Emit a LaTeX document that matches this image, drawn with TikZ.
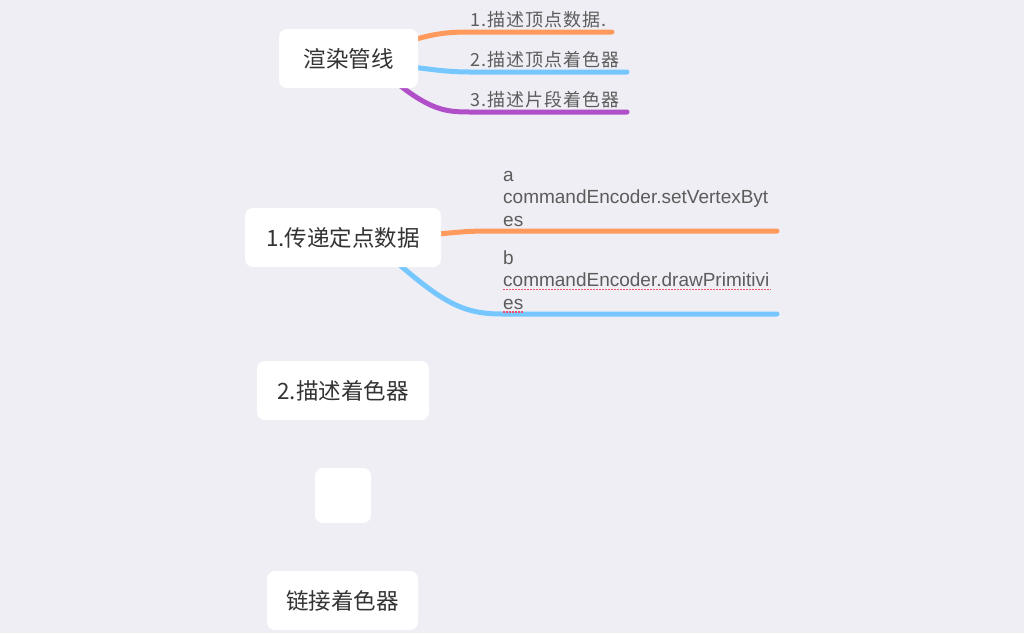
\documentclass[tikz,border=0pt]{standalone}
\usepackage{fontspec}
\usepackage{tikz}
\usetikzlibrary{backgrounds}
\setmainfont{Liberation Sans}
\newfontfamily\cjk{Noto Sans CJK SC}
\newfontfamily\cjkwide[LetterSpace=6]{Noto Sans CJK SC}

\definecolor{bgcol}{HTML}{EFEEF5}
\definecolor{boxtext}{HTML}{333333}
\definecolor{leaftext}{HTML}{5C5C5C}
\definecolor{orangeb}{HTML}{FF9A5C}
\definecolor{blueb}{HTML}{76C7FF}
\definecolor{purpleb}{HTML}{B04FC8}
\definecolor{spellred}{HTML}{F0506A}

\begin{document}
\begin{tikzpicture}[x=1pt,y=-1pt,
  topic/.style={shape=rectangle,rounded corners=8pt,fill=white,text=boxtext,
    minimum height=59pt,inner sep=0pt,font=\cjk\fontsize{22.5}{27}\selectfont},
  leaf/.style={anchor=base west,inner sep=0pt,text=leaftext,
    font=\cjkwide\fontsize{18}{22}\selectfont},
  codeleaf/.style={anchor=base west,inner sep=0pt,text=leaftext,align=left,
    font=\fontsize{19}{22.5}\selectfont},
  branch/.style={line width=5pt,line cap=round},
  spellmark/.style={spellred,line width=1.1pt,dash pattern=on 1.5pt off 1.5pt}]
%[inner sep=1mm]
\useasboundingbox (0,0) rectangle (1024,633);

\path (348.5,58.5) node (render) [topic,minimum width=139pt] {渲染管线};
\path (343,237.5) node (transfer) [topic,minimum width=196pt] {1.传递定点数据};
\path (343,390.5) node (describe) [topic,minimum width=172pt] {2.描述着色器};
\path (343,495.5) node (empty) [topic,minimum width=56pt,minimum height=55pt] {};
\path (342.5,600.5) node (link) [topic,minimum width=151pt] {链接着色器};

\path (470,26) node (vdata) [leaf] {1.描述顶点数据.};
\path (470,66) node (vshader) [leaf] {2.描述顶点着色器};
\path (470,106) node (fshader) [leaf] {3.描述片段着色器};
\path (503,226) node (setbytes) [codeleaf] {a\\commandEncoder.setVertexByt\\es};
\path (503,309) node (drawprim) [codeleaf] {b\\commandEncoder.drawPrimitivi\\es};

\coordinate (vdataend) at (612,32);
\coordinate (vshaderend) at (627,72);
\coordinate (fshaderend) at (627,112);
\coordinate (setbytesend) at (777,231);
\coordinate (drawprimend) at (777,314);

\begin{scope}[on background layer]
\fill [bgcol] (0,0) rectangle (1024,633);
\draw [branch,orangeb] ([shift={(-10,-17)}]render.east) .. controls (435,33) and (450,32) .. ([yshift=-6pt]vdata.base west) -- (vdataend);
\draw [branch,blueb] ([shift={(-10,8)}]render.east) .. controls (435,70) and (450,72) .. ([yshift=-6pt]vshader.base west) -- (vshaderend);
\draw [branch,purpleb] ([shift={(-25,-8)}]render.south east) .. controls (430,110) and (445,112) .. ([yshift=-6pt]fshader.base west) -- (fshaderend);
\draw [branch,orangeb] ([shift={(-8,-3)}]transfer.east) .. controls (470,231) .. (setbytesend -| setbytes.west) -- (setbytesend);
\draw [branch,blueb] ([shift={(-48,-8)}]transfer.south east) .. controls (445,305) and (465,314) .. (drawprimend -| drawprim.west) -- (drawprimend);
\end{scope}

\draw [spellmark] (503,289.5) -- (771,289.5);
\draw [spellmark] (503,312) -- (523,312);
\end{tikzpicture}
\end{document}
